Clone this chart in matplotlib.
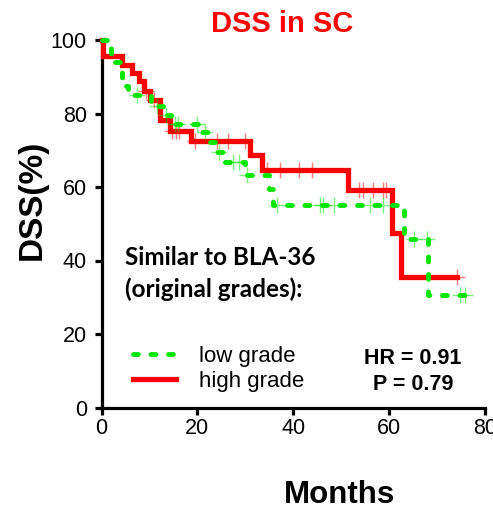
import matplotlib
matplotlib.use("Agg")
import matplotlib.pyplot as plt
import numpy as np
from matplotlib.lines import Line2D

# ---- data ----
low_time = [0, 2.0, 4.3, 5.5, 10.3, 12.8, 14.5, 20.5, 22.5, 23.8, 25.8, 30.0, 35.0, 35.8, 63.1, 68.2, 77.0]
low_surv = [100, 94, 87.5, 85, 82, 79.5, 77.2, 75, 72.3, 69.6, 66.9, 63.3, 59.5, 55, 45.8, 30.6, 30.6]
low_cens = [7.5, 11.5, 13.5, 15.4, 16.0, 20.0, 21.5, 24.5, 27.5, 28.6, 30.3, 36.6, 45.6, 46.3,
            48.4, 56.0, 58.8, 65.1, 68.0, 74.8, 75.9]

high_time = [0, 0.3, 4.2, 6.3, 7.9, 8.9, 10.1, 12.1, 14.3, 18.6, 31.0, 33.4, 51.4, 60.6, 62.5, 74.2]
high_surv = [100, 95.6, 93.3, 91, 88.8, 86, 83.8, 78.3, 75.2, 72.4, 68.7, 64.6, 59.2, 47.6, 35.6, 35.6]
high_cens = [9.3, 11.0, 14.7, 15.5, 16.2, 19.5, 24.0, 26.3, 30.0, 34.5, 37.3, 41.1, 43.9,
             53.8, 54.5, 56.6, 58.7, 59.4, 74.2]

x_ticks = [0, 20, 40, 60, 80]
y_ticks = [0, 20, 40, 60, 80, 100]

GREEN = "#00e600"
RED = "#ff0000"

plt.rcParams['font.family'] = ['Liberation Sans', 'DejaVu Sans']

fig = plt.figure(figsize=(4.93, 5.09), dpi=100)
ax = fig.add_axes([101.5 / 493, (509 - 407.5) / 509, 383.5 / 493, 367.5 / 509])


def surv_at(times, survs, t):
    idx = np.searchsorted(np.asarray(times), t, side='right') - 1
    return np.asarray(survs)[idx]


# high grade (red, solid)
ax.step(high_time, high_surv, where='post', color=RED, lw=3.8, solid_joinstyle='miter',
        zorder=3, clip_on=False)
ax.plot(high_cens, surv_at(high_time, high_surv, high_cens), linestyle='none', marker='+',
        ms=12, mew=1.0, color=RED, alpha=0.5, zorder=3, clip_on=False)

# low grade (green, dashed)
ax.step(low_time, low_surv, where='post', color=GREEN, lw=3.5, dashes=(1.0, 2.6),
        dash_capstyle='round', zorder=4, clip_on=False)
ax.plot(low_cens, surv_at(low_time, low_surv, low_cens), linestyle='none', marker='+',
        ms=12, mew=1.0, color=GREEN, alpha=0.5, zorder=4, clip_on=False)

ax.set_xlim(0, 80)
ax.set_ylim(0, 100)
ax.set_xticks(x_ticks)
ax.set_yticks(y_ticks)
for s in ['top', 'right']:
    ax.spines[s].set_visible(False)
for s in ['left', 'bottom']:
    ax.spines[s].set_linewidth(2.3)
    ax.spines[s].set_capstyle('projecting')
ax.tick_params(axis='both', length=5, width=2.3, labelsize=15.5, color='black')
ax.tick_params(axis='y', pad=5.5)
ax.tick_params(axis='x', pad=2.5)

ax.set_title("DSS in SC", color=RED, fontsize=21, fontweight='bold', x=0.47, y=1.0, pad=6)
fig.text(32 / 493, 1 - 200 / 509, "DSS(%)", rotation=90, fontsize=24, fontweight='bold',
         ha='center', va='center')
fig.text(339 / 493, 1 - 495 / 509, "Months", fontsize=22.5, fontweight='bold',
         ha='center', va='center')

fig.text(125 / 493, 1 - 265 / 509, "Similar to BLA-36", fontsize=17.5, fontweight='bold',
         family=['Lato', 'DejaVu Sans'], ha='left', va='baseline')
fig.text(125 / 493, 1 - 297 / 509, "(original grades):", fontsize=17.5, fontweight='bold',
         family=['Lato', 'DejaVu Sans'], ha='left', va='baseline')

# legend
handles = [Line2D([], [], color=GREEN, lw=3.5, dashes=(1.0, 2.6), dash_capstyle='round'),
           Line2D([], [], color=RED, lw=3.8)]
fig.legend(handles, ["low grade", "high grade"], loc='center left',
           bbox_to_anchor=(113 / 493, 1 - 369 / 509), frameon=False, fontsize=16,
           handlelength=1.95, handletextpad=1.0, labelspacing=0.2)

fig.text(413 / 493, 1 - 359 / 509, "HR = 0.91", fontsize=15.5, fontweight='bold',
         ha='center', va='center')
fig.text(413 / 493, 1 - 385 / 509, "P = 0.79", fontsize=15.5, fontweight='bold',
         ha='center', va='center')

fig.savefig("out.png", dpi=100)
